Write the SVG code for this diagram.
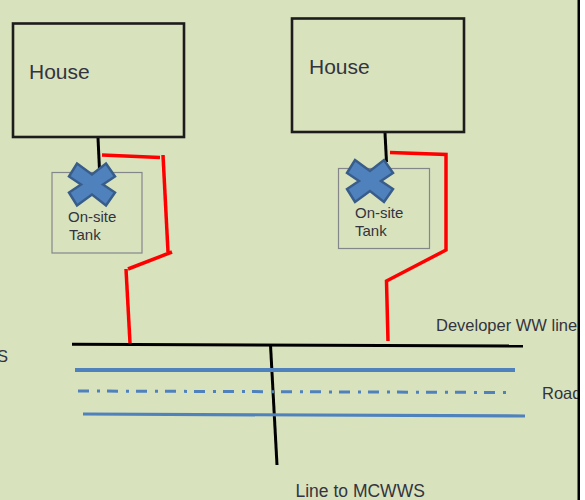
<svg xmlns="http://www.w3.org/2000/svg" width="585" height="500" viewBox="0 0 585 500">
  <style>
    .lbl { font-family: "Liberation Sans", Arial, sans-serif; fill: #33343f; }
    .house { fill: none; stroke: #1c1c1c; stroke-width: 2.600; }
    .tank { fill: none; stroke: #85868a; stroke-width: 1.200; }
    .blk { fill: none; stroke: #000; stroke-width: 3; }
    .red { fill: none; stroke: #ff0000; stroke-width: 3.500; stroke-linejoin: miter; }
    .blue { fill: none; stroke: #4f81bd; }
    .cross { fill: #4f81bd; stroke: #385d8a; stroke-width: 2.500; stroke-linejoin: miter; }
  </style>
  <defs>
    <polygon id="x-mark" points="-15,-21 0,-10 14,-21 23,-8 11,0 23,8 14,21 0,10 -15,21 -23,8 -11,0 -23,-8"/>
    <clipPath id="frame"><rect x="0" y="0" width="578" height="500"/></clipPath>
  </defs>
  <rect x="0" y="0" width="585" height="500" fill="#d8e2bd"/>

  <g id="connectors">
    <path class="blk" d="M98 138 L99.500 170"/>
    <path class="blk" d="M385 133 L386.500 162"/>
    <path class="red" d="M102 155 L160 157.500"/>
    <path class="red" d="M163 155 L168 252"/>
    <path class="red" d="M172 252 L128 269"/>
    <path class="red" d="M126 269 L130 343"/>
    <path class="red" d="M390 152.500 L446 154.500 L446 250 L386.500 281 L388 341"/>
    <path class="blk" d="M72 344.300 L523 346"/>
    <path class="blk" d="M270.500 345 L277 465"/>
    <path class="blue" stroke-width="4" d="M75 370 L515 370"/>
    <path class="blue" stroke-width="3" stroke-dasharray="11 8 3 7" d="M78 391 L508 392.500"/>
    <path class="blue" stroke-width="3.200" d="M83 414 L525 416"/>
  </g>

  <g id="tank-1">
    <rect class="tank" x="52" y="172.500" width="90" height="80.500"/>
    <use href="#x-mark" class="cross" x="92" y="184.500"/>
    <text class="lbl" x="68" y="222" font-size="15">On-site</text>
    <text class="lbl" x="69" y="240" font-size="15">Tank</text>
  </g>
  <g id="tank-2">
    <rect class="tank" x="338.500" y="168.500" width="91" height="80"/>
    <use href="#x-mark" class="cross" x="370" y="181"/>
    <text class="lbl" x="355" y="218" font-size="15">On-site</text>
    <text class="lbl" x="355" y="236" font-size="15">Tank</text>
  </g>
  <g id="house-1">
    <rect class="house" x="13" y="23.500" width="171" height="113.500"/>
    <text class="lbl" x="29" y="79" font-size="21">House</text>
  </g>
  <g id="house-2">
    <rect class="house" x="292" y="18.500" width="172" height="113.500"/>
    <text class="lbl" x="309" y="74" font-size="21">House</text>
  </g>

  <g id="labels" clip-path="url(#frame)">
    <text class="lbl" x="-3" y="362" font-size="16.500">S</text>
    <text class="lbl" x="436" y="331" font-size="16.500">Developer WW line</text>
    <text class="lbl" x="542" y="399" font-size="16.500">Road</text>
    <text class="lbl" x="295.500" y="497" font-size="17.500">Line to MCWWS</text>
  </g>

  <g id="frame-edge">
    <rect x="580" y="0" width="5" height="500" fill="#fff"/>
    <rect x="577.500" y="0" width="2.500" height="500" fill="#000"/>
  </g>
</svg>
